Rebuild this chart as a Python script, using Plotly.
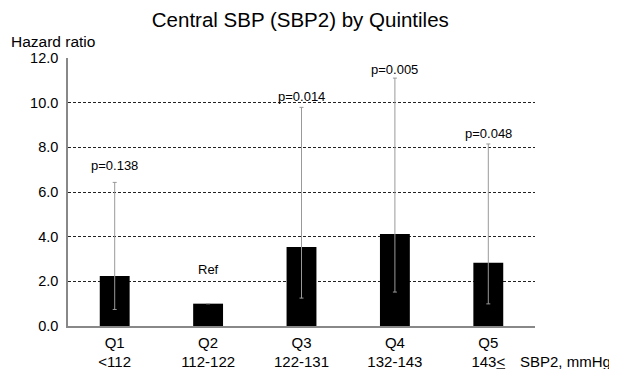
import plotly.graph_objects as go

categories = ["Q1", "Q2", "Q3", "Q4", "Q5"]
ranges = ["&lt;112", "112-122", "122-131", "132-143", "143<u>&lt;</u>"]
hazard = [2.24, 1.0, 3.54, 4.12, 2.83]
ci_low = [0.74, None, 1.25, 1.52, 0.99]
ci_high = [6.43, None, 9.79, 11.1, 8.15]
p_labels = ["p=0.138", "Ref", "p=0.014", "p=0.005", "p=0.048"]
y_ticks = [0, 2, 4, 6, 8, 10, 12]

# label offsets above the cap (pixels) - style only
label_shift = [17, 34, 11, 9, 10]

err_plus = [(h - v if h is not None else 0) for v, h in zip(hazard, ci_high)]
err_minus = [(v - l if l is not None else 0) for v, l in zip(hazard, ci_low)]

fig = go.Figure()
fig.add_trace(go.Bar(
    x=categories, y=hazard, marker=dict(color="black", line=dict(width=0)),
    error_y=dict(type="data", symmetric=False, array=err_plus, arrayminus=err_minus,
                 color="#999999", thickness=1, width=2),
    width=0.32,
))

for i, (c, lab) in enumerate(zip(categories, p_labels)):
    ypos = ci_high[i] if ci_high[i] is not None else hazard[i]
    fig.add_annotation(x=c, y=ypos, text=lab, showarrow=False, yshift=label_shift[i],
                       yanchor="middle", font=dict(size=13, color="black"))

fig.add_annotation(text="Hazard ratio", xref="paper", yref="paper", x=-0.126, y=1.06,
                   xanchor="left", yanchor="middle", showarrow=False,
                   font=dict(size=15.5, color="black"))
fig.add_annotation(text="SBP2, mmHg", xref="paper", yref="paper", x=0.9636, y=-0.134,
                   xanchor="left", yanchor="middle", showarrow=False,
                   font=dict(size=15, color="black"))

fig.update_layout(
    width=609, height=361,
    margin=dict(l=60, r=82, t=50, b=43),
    paper_bgcolor="white", plot_bgcolor="white",
    font=dict(family="Liberation Sans, Arial, sans-serif", color="black"),
    title=dict(text="Central SBP (SBP2) by Quintiles", x=0.48, xanchor="center",
               y=0.967, yanchor="middle", font=dict(size=20.5, color="black")),
    showlegend=False,
    bargap=0.68,
)
fig.update_xaxes(
    tickvals=categories,
    ticktext=[f"{c}<br>{r}" for c, r in zip(categories, ranges)],
    showline=True, linecolor="#888888", linewidth=1.5,
    ticks="", showgrid=False, tickfont=dict(size=15, color="black"),
    automargin=False, ticklabelstandoff=2,
)
fig.update_yaxes(
    range=[0, 12], tickvals=y_ticks, tickformat=".1f",
    showline=True, linecolor="#888888", linewidth=1.5,
    showgrid=True, gridcolor="#222222", griddash="3px,2px", gridwidth=1,
    zeroline=False, ticks="", tickfont=dict(size=14.5, color="black"),
    automargin=False, ticklabelstandoff=5,
)

fig.write_html("out.html")
